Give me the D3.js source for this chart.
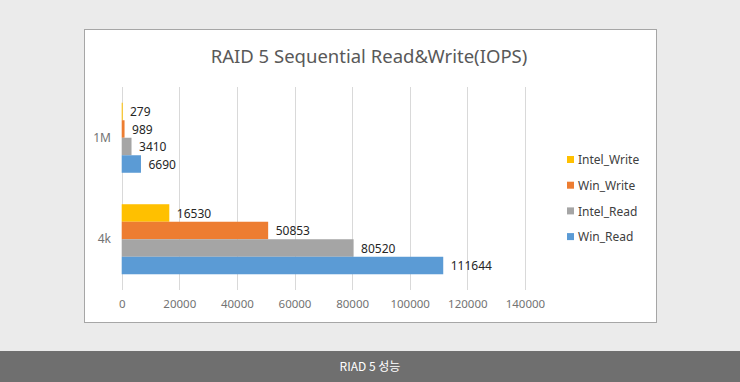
<!DOCTYPE html>
<html>
<head>
<meta charset="utf-8">
<title>RAID 5 Sequential Read&Write</title>
<script src="https://d3js.org/d3.v7.min.js"></script>
<style>
body { margin:0; background:#ebebeb; }
svg { display:block; }
</style>
</head>
<body>
<script>
// data
var categories = ["1M", "4k"];
var seriesNames = ["Intel_Write", "Win_Write", "Intel_Read", "Win_Read"];
var seriesColors = ["#ffc000", "#ed7d31", "#a5a5a5", "#5b9bd5"];
var values = {
  "1M": [279, 989, 3410, 6690],
  "4k": [16530, 50853, 80520, 111644]
};
var xTicks = [0, 20000, 40000, 60000, 80000, 100000, 120000, 140000];

var W = 740, H = 382;
var font = "'Noto Sans', 'Noto Sans CJK KR', sans-serif";

var svg = d3.select("body").append("svg")
    .attr("width", W).attr("height", H);

svg.append("rect").attr("width", W).attr("height", H).attr("fill", "#ebebeb");

// chart box
svg.append("rect")
    .attr("x", 84.5).attr("y", 29.5).attr("width", 572).attr("height", 293)
    .attr("fill", "#fff").attr("stroke", "#a6a6a6");

svg.append("text")
    .attr("x", 369).attr("y", 63)
    .attr("text-anchor", "middle")
    .attr("font-family", font).attr("font-size", 18.5)
    .attr("fill", "#595959")
    .text("RAID 5 Sequential Read&Write(IOPS)");

var plot = {left: 121.7, right: 524.9, top: 87, bottom: 290};

var x = d3.scaleLinear().domain([0, 140000]).range([plot.left, plot.right]);
var y = d3.scaleBand().domain(categories).range([plot.top, plot.bottom]).paddingInner(0.31).paddingOuter(0.155);
var ySub = d3.scaleBand().domain(seriesNames).range([0, y.bandwidth()]);

// gridlines
svg.append("g").selectAll("line").data(xTicks).join("line")
    .attr("x1", function(d){ return Math.round(x(d)) + 0.5; })
    .attr("x2", function(d){ return Math.round(x(d)) + 0.5; })
    .attr("y1", plot.top).attr("y2", plot.bottom)
    .attr("stroke", "#d9d9d9");

// x axis labels
var xAxis = d3.axisBottom(x).tickValues(xTicks).tickFormat(d3.format("d")).tickSize(0).tickPadding(0);
var gx = svg.append("g").attr("transform", "translate(0," + 300 + ")").call(xAxis);
gx.select(".domain").remove();
gx.selectAll("text").attr("font-family", font).attr("font-size", 11.5).attr("fill", "#737373");

// y labels
var yAxis = d3.axisLeft(y).tickSize(0).tickPadding(0);
var gy = svg.append("g").attr("transform", "translate(111,0)").call(yAxis);
gy.select(".domain").remove();
gy.selectAll("text").attr("font-family", font).attr("font-size", 12).attr("fill", "#737373");

// bars
var groups = svg.append("g").selectAll("g").data(categories).join("g")
    .attr("transform", function(c){ return "translate(0," + y(c) + ")"; });

groups.selectAll("rect").data(function(c){
    return seriesNames.map(function(s, i){ return {s: s, i: i, v: values[c][i]}; });
  }).join("rect")
    .attr("x", x(0))
    .attr("y", function(d){ return ySub(d.s); })
    .attr("width", function(d){ return Math.max(1, x(d.v) - x(0)); })
    .attr("height", ySub.bandwidth())
    .attr("fill", function(d){ return seriesColors[d.i]; });

groups.selectAll("text").data(function(c){
    return seriesNames.map(function(s, i){ return {s: s, i: i, v: values[c][i]}; });
  }).join("text")
    .attr("x", function(d){ return x(d.v) + 7.5; })
    .attr("y", function(d){ return ySub(d.s) + ySub.bandwidth() / 2; })
    .attr("dy", "0.4em")
    .attr("font-family", font).attr("font-size", 12)
    .attr("fill", "#262626")
    .text(function(d){ return d.v; });

// legend
var legend = svg.append("g").selectAll("g").data(seriesNames).join("g")
    .attr("transform", function(d, i){ return "translate(567," + (160 + i * 25.7) + ")"; });
legend.append("rect").attr("x", 0).attr("y", -4).attr("width", 7).attr("height", 7)
    .attr("fill", function(d, i){ return seriesColors[i]; });
legend.append("text").attr("x", 11).attr("y", 0).attr("dy", "0.36em")
    .attr("font-family", font).attr("font-size", 12).attr("fill", "#404040")
    .text(function(d){ return d; });

// caption bar
svg.append("rect").attr("x", 0).attr("y", 351).attr("width", W).attr("height", 31).attr("fill", "#6f6f6f");
svg.append("text")
    .attr("x", 370).attr("y", 366.5).attr("dy", "0.36em")
    .attr("text-anchor", "middle")
    .attr("font-family", "'Noto Sans CJK KR', sans-serif").attr("font-size", 12)
    .attr("fill", "#fff")
    .text("RIAD 5 성능");
</script>
</body>
</html>
